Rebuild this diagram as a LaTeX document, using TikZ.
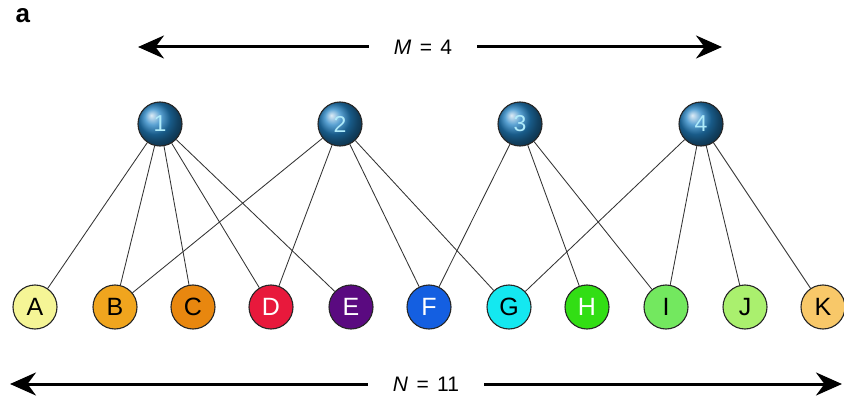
\documentclass[tikz,border=0pt]{standalone}
\usepackage{fontspec}
\setmainfont{Liberation Sans}
\usepackage{tikz}
\usetikzlibrary{positioning,arrows.meta,shadings}

\definecolor{colA}{RGB}{245,245,150}
\definecolor{colB}{RGB}{240,165,30}
\definecolor{colC}{RGB}{232,135,15}
\definecolor{colD}{RGB}{232,25,60}
\definecolor{colE}{RGB}{90,10,128}
\definecolor{colF}{RGB}{20,95,225}
\definecolor{colG}{RGB}{20,232,240}
\definecolor{colH}{RGB}{50,222,20}
\definecolor{colI}{RGB}{115,232,95}
\definecolor{colJ}{RGB}{170,240,110}
\definecolor{colK}{RGB}{248,200,105}
\definecolor{ballblue}{RGB}{35,130,195}
\definecolor{numcyan}{RGB}{175,235,250}

\begin{document}
\begin{tikzpicture}[
  x=1pt, y=-1pt,
  font=\fontsize{25}{28}\selectfont,
  >=Stealth,
  topnode/.style={circle, draw=black!85, line width=1.1pt, shading=ball, ball color=ballblue, minimum size=44pt, inner sep=0pt, text=numcyan, font=\fontsize{23}{26}\selectfont},
  botnode/.style={circle, draw=black!85, line width=1.1pt, minimum size=44pt, inner sep=0pt},
  linkedge/.style={draw=black!80, line width=0.85pt},
  widearrow/.style={line width=3pt, arrows={-Stealth[length=26pt,width=23pt]}},
  rangelab/.style={inner xsep=25pt, font=\fontsize{21}{24}\selectfont}
]
  \useasboundingbox (0,0) rectangle (844,404);
  \node[font=\bfseries\fontsize{26}{28}\selectfont, anchor=west] (panel) at (12,16) {a};

  % top row
  \node[topnode] (t1) at (160,124) {1};
  \node[topnode] (t2) at (340,124) {2};
  \node[topnode] (t3) at (520,124) {3};
  \node[topnode] (t4) at (701,124) {4};

  % bottom row
  \node[botnode, fill=colA] (bA) at (35,307) {A};
  \node[botnode, fill=colB] (bB) at (115,307) {B};
  \node[botnode, fill=colC] (bC) at (193,307) {C};
  \node[botnode, fill=colD, text=white] (bD) at (271,307) {D};
  \node[botnode, fill=colE, text=white] (bE) at (351,307) {E};
  \node[botnode, fill=colF, text=white] (bF) at (429,307) {F};
  \node[botnode, fill=colG] (bG) at (509,307) {G};
  \node[botnode, fill=colH, text=white] (bH) at (587,307) {H};
  \node[botnode, fill=colI] (bI) at (666,307) {I};
  \node[botnode, fill=colJ] (bJ) at (745,307) {J};
  \node[botnode, fill=colK] (bK) at (823,307) {K};

  % links
  \foreach \t/\b in {t1/bA,t1/bB,t1/bC,t1/bD,t1/bE,t2/bB,t2/bD,t2/bF,t2/bG,t3/bF,t3/bH,t3/bI,t4/bG,t4/bI,t4/bJ,t4/bK}
    \draw[linkedge] (\t) -- (\b);

  % size arrows
  \node[rangelab] (mlab) at (423,47) {\textit{M}\hspace{0.4em}=\hspace{0.4em}4};
  \coordinate (mleft) at (138,47);
  \coordinate (mright) at (722,47);
  \draw[widearrow] (mlab.west) -- (mleft);
  \draw[widearrow] (mlab.east) -- (mright);

  \node[rangelab] (nlab) at (426,384) {\textit{N}\hspace{0.4em}=\hspace{0.4em}11};
  \coordinate (nleft) at (10,384);
  \coordinate (nright) at (842,384);
  \draw[widearrow] (nlab.west) -- (nleft);
  \draw[widearrow] (nlab.east) -- (nright);
\end{tikzpicture}
\end{document}
